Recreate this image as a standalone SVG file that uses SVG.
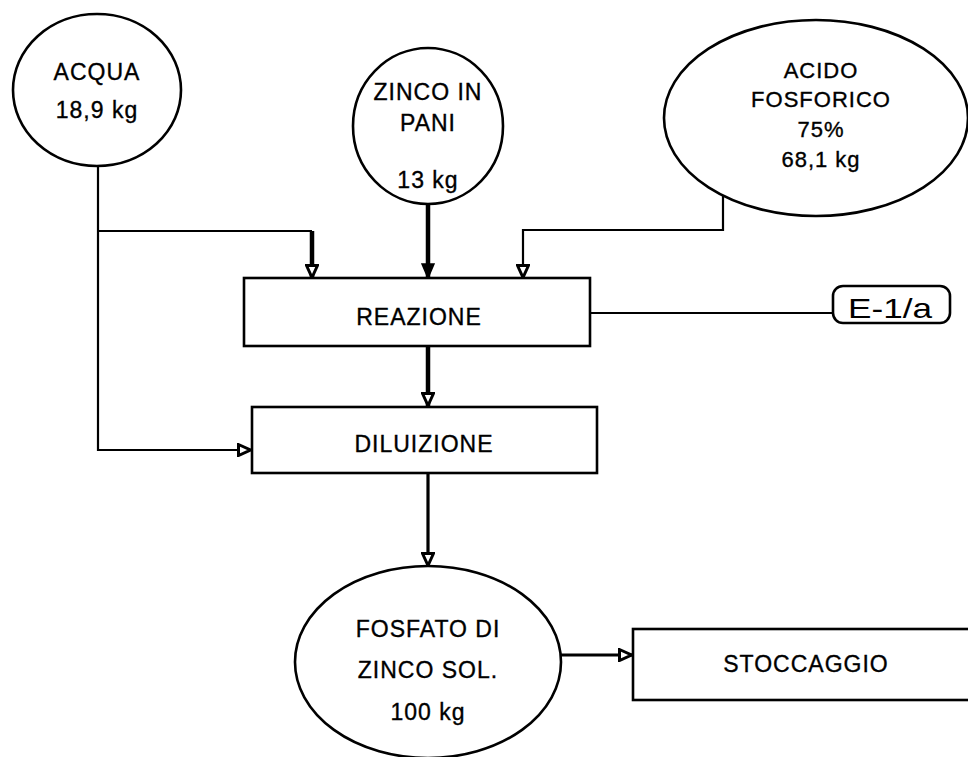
<svg xmlns="http://www.w3.org/2000/svg" width="968" height="757" viewBox="0 0 968 757">
<style>
.t{font-family:"Liberation Sans",Arial,sans-serif;font-size:23px;letter-spacing:1px;text-anchor:middle;fill:#000;stroke:#000;stroke-width:0.35}
.s{fill:#fff;stroke:#000;stroke-width:2.6}
.c{fill:none;stroke:#000;stroke-width:2.2}
.k4{stroke-width:4.5}
.k3{stroke-width:3.2}
</style>
<defs>
<marker id="ao" viewBox="0 0 15 14" refX="14" refY="7" markerWidth="15" markerHeight="14" markerUnits="userSpaceOnUse" orient="auto">
<path d="M1.5,1.5 L13.5,7 L1.5,12.5 z" fill="#fff" stroke="#000" stroke-width="3"/>
</marker>
<marker id="af" viewBox="0 0 16 14" refX="15" refY="7" markerWidth="16" markerHeight="14" markerUnits="userSpaceOnUse" orient="auto">
<path d="M1,1 L15,7 L1,13 z" fill="#000" stroke="#000" stroke-width="1.5"/>
</marker>
</defs>
<rect width="968" height="757" fill="#fff"/>
<g id="connectors">
<path class="c" d="M98,166 V450 H251" marker-end="url(#ao)"/>
<path class="c" d="M98,231 H312"/>
<path class="c k4" d="M312,231 V278" marker-end="url(#ao)"/>
<path class="c k4" d="M428,204 V278" marker-end="url(#af)"/>
<path class="c" d="M723,195 V230 H523 V278" marker-end="url(#ao)"/>
<path class="c k4" d="M428,346 V406" marker-end="url(#ao)"/>
<path class="c k3" d="M428,473 V566" marker-end="url(#ao)"/>
<path class="c" d="M590,313 H833"/>
<path class="c k3" d="M560,655 H632" marker-end="url(#ao)"/>
</g>
<g id="acqua">
<ellipse class="s" cx="97" cy="90" rx="84" ry="76"/>
<text class="t" x="97" y="80">ACQUA</text>
<text class="t" x="97" y="118">18,9 kg</text>
</g>
<g id="zinco">
<ellipse class="s" cx="428" cy="126" rx="75" ry="78"/>
<text class="t" x="428" y="100">ZINCO IN</text>
<text class="t" x="428" y="131">PANI</text>
<text class="t" x="428" y="188">13 kg</text>
</g>
<g id="acido">
<ellipse class="s" cx="816" cy="118" rx="152" ry="98"/>
<text class="t" x="821" y="78" style="font-size:22px">ACIDO</text>
<text class="t" x="821" y="107" style="font-size:22px">FOSFORICO</text>
<text class="t" x="821" y="137" style="font-size:22px">75%</text>
<text class="t" x="821" y="167" style="font-size:22px">68,1 kg</text>
</g>
<g id="reazione">
<rect class="s" x="244" y="278" width="346" height="68"/>
<text class="t" x="419" y="325">REAZIONE</text>
</g>
<g id="e1a">
<rect class="s" x="833" y="286" width="117" height="37" rx="10"/>
<text class="t" x="890" y="318" style="font-size:28px;letter-spacing:0;stroke-width:0" textLength="84" lengthAdjust="spacingAndGlyphs">E-1/a</text>
</g>
<g id="diluizione">
<rect class="s" x="252" y="407" width="345" height="66"/>
<text class="t" x="424" y="452">DILUIZIONE</text>
</g>
<g id="fosfato">
<ellipse class="s" cx="428" cy="662" rx="133" ry="96"/>
<text class="t" x="428" y="637">FOSFATO DI</text>
<text class="t" x="428" y="678">ZINCO SOL.</text>
<text class="t" x="428" y="720">100 kg</text>
</g>
<g id="stoccaggio">
<rect class="s" x="633" y="629" width="345" height="71"/>
<text class="t" x="806" y="672">STOCCAGGIO</text>
</g>
</svg>
